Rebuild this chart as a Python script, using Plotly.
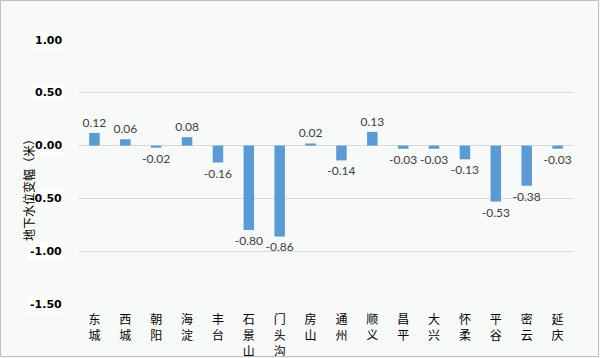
import plotly.graph_objects as go

districts = ["东城", "西城", "朝阳", "海淀", "丰台", "石景山", "门头沟", "房山", "通州", "顺义",
             "昌平", "大兴", "怀柔", "平谷", "密云", "延庆"]
values = [0.12, 0.06, -0.02, 0.08, -0.16, -0.80, -0.86, 0.02, -0.14, 0.13,
          -0.03, -0.03, -0.13, -0.53, -0.38, -0.03]
y_ticks = [1.0, 0.5, 0.0, -0.5, -1.0, -1.5]
y_title = "地下水位变幅（米）"

cat_labels = ["<br>".join(list(d)) for d in districts]

L, R, T, B = 79, 27, 40, 54
W, H = 600, 358
pw, ph = W - L - R, H - T - B

fig = go.Figure()
fig.add_trace(go.Bar(
    x=cat_labels, y=values,
    marker=dict(color="#5b9bd5", line=dict(width=0)),
    text=[f"{v:.2f}" for v in values],
    textposition="outside",
    constraintext="none",
    textfont=dict(family="Lato, Noto Sans, sans-serif", size=12, color="#404040"),
    cliponaxis=False,
    hoverinfo="skip",
))

for t in y_ticks:
    fig.add_annotation(
        x=0, xref="paper", xanchor="right", xshift=-14,
        y=t, yref="y",
        text=f"{t:.2f}", showarrow=False,
        font=dict(family="DejaVu Sans", size=11, color="#000000", weight="bold"),
        bgcolor="white", borderpad=2,
    )

fig.add_annotation(
    x=(28 - L) / pw, xref="paper", xanchor="center",
    y=(H - B - 187) / ph, yref="paper", yanchor="middle",
    text=y_title, textangle=-90, showarrow=False,
    font=dict(family="Noto Sans CJK SC", size=12, color="#000000"),
)

fig.update_layout(
    width=W, height=H,
    margin=dict(l=L, r=R, t=T, b=B, autoexpand=False),
    paper_bgcolor="#f8f9f9",
    plot_bgcolor="#f8f9f9",
    bargap=0.66,
    showlegend=False,
    xaxis=dict(
        showgrid=False, showline=False, automargin=False,
        ticks="outside", ticklen=5, tickcolor="rgba(0,0,0,0)",
        tickfont=dict(family="Noto Sans CJK SC", size=12, color="#000000"),
        tickangle=0,
    ),
    yaxis=dict(
        range=[-1.5, 1.0], tickvals=y_ticks, showticklabels=False, automargin=False,
        showgrid=True, gridcolor="#d9d9d9", gridwidth=1,
        zeroline=True, zerolinecolor="#d9d9d9", zerolinewidth=1,
        showline=False,
    ),
    shapes=[dict(type="rect", xref="paper", yref="paper",
                 x0=(-L + 0.5) / pw, x1=1 + (R - 1.5) / pw,
                 y0=(-B + 1.5) / ph, y1=1 + (T - 0.5) / ph,
                 line=dict(color="#bfbfbf", width=1))],
)

fig.write_html("out.html", config={"displayModeBar": False, "staticPlot": True})

with open("out.html", "r", encoding="utf-8") as f:
    html = f.read()
html = html.replace("<body>", '<body style="margin:0;padding:0;overflow:hidden">', 1)
with open("out.html", "w", encoding="utf-8") as f:
    f.write(html)
